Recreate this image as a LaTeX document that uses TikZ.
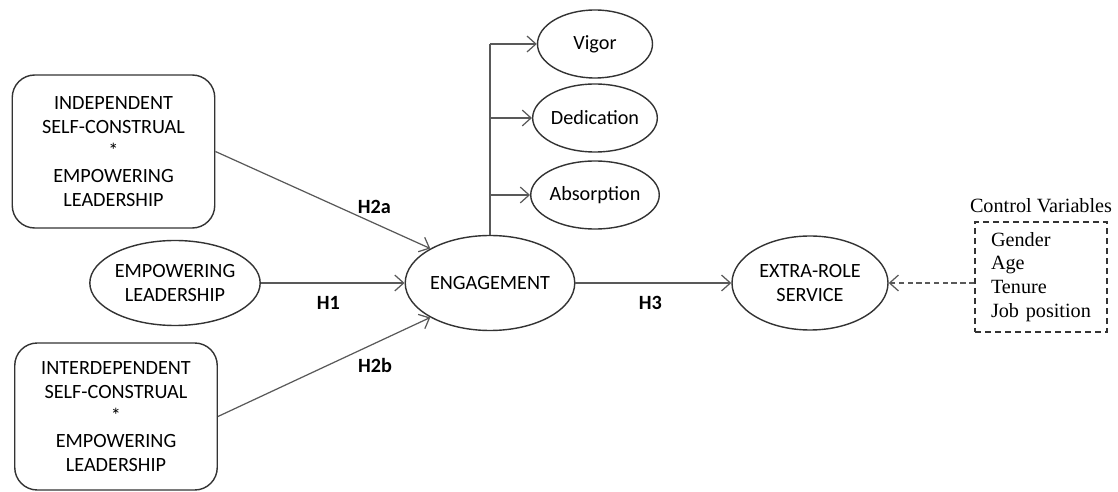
\documentclass[tikz,border=0pt]{standalone}
\usepackage{fontspec}
\setmainfont{Carlito}
\newfontfamily\timesfont{Liberation Serif}
\usepackage{tikz}
\usetikzlibrary{shapes.geometric, arrows.meta, positioning, calc}
\tikzstyle{construct} = [ellipse, draw=black!80, line width=0.8pt, minimum width=3.1cm, minimum height=1.9cm, inner sep=0pt, align=center, font=\fontsize{11.5}{13.5}\selectfont]
\tikzstyle{facet} = [ellipse, draw=black!80, line width=0.8pt, minimum width=2.3cm, minimum height=1.36cm, inner sep=0pt, font=\fontsize{11.5}{13.5}\selectfont]
\tikzstyle{moderator} = [rectangle, rounded corners=0.45cm, draw=black!80, line width=0.8pt, minimum width=4.05cm, minimum height=3cm, align=center, font=\fontsize{11.5}{13.8}\selectfont]
\tikzstyle{controlbox} = [rectangle, draw=black!80, line width=0.8pt, dash pattern=on 0.12cm off 0.08cm, text width=2.0cm, inner xsep=0.32cm, minimum height=2.2cm, align=left, font=\timesfont\fontsize{11.5}{13.6}\selectfont]
\tikzstyle{arrow} = [draw=black!65, line width=0.7pt, -{Straight Barb[length=5pt, width=9pt]}]
\tikzstyle{hyp} = [font=\bfseries\fontsize{11.5}{13.5}\selectfont]

\begin{document}
\begin{tikzpicture}[node distance=1.52cm]
\useasboundingbox (0,0) rectangle (22.36,9.84);

\node (eng) [construct] at (9.80,4.18) {ENGAGEMENT};
\node (emp) [construct, minimum height=1.7cm] at (3.50,4.18) {EMPOWERING\\LEADERSHIP};
\node (indep) [moderator, minimum height=3.06cm] at (2.27,6.81) {INDEPENDENT\\SELF-CONSTRUAL\\*\\EMPOWERING\\LEADERSHIP};
\node (interdep) [moderator, minimum height=2.94cm] at (2.32,1.51) {INTERDEPENDENT\\SELF-CONSTRUAL\\*\\EMPOWERING\\LEADERSHIP};
\node (vigor) [facet] at (11.90,8.96) {Vigor};
\node (dedic) [facet, below of=vigor, yshift=0.04cm] {Dedication};
\node (absorp) [facet, below of=dedic, yshift=-0.02cm] {Absorption};
\node (extra) [construct, minimum width=3.12cm, minimum height=1.88cm] at (16.20,4.18) {EXTRA-ROLE\\SERVICE};
\node (ctrl) [controlbox] at (20.82,4.30) {Gender\\Age\\Tenure\\Job position};
\node (ctrltitle) [above=0.05cm of ctrl, font=\timesfont\fontsize{11.5}{13.4}\selectfont] {Control Variables};

% hypotheses
\draw [arrow] (indep.east) -- (eng.150) node[hyp, pos=0.74, yshift=0.32cm] {H2a};
\draw [arrow] (emp.east) -- (eng.west) node[hyp, pos=0.47, yshift=-0.4cm] {H1};
\draw [arrow] (interdep.east) -- (eng.210) node[hyp, pos=0.74, yshift=-0.45cm] {H2b};
\draw [arrow] (eng.east) -- (extra.west) node[hyp, pos=0.48, yshift=-0.4cm] {H3};

% engagement dimensions
\draw [draw=black!65, line width=0.7pt] (eng.north) -- (eng.north |- vigor.west);
\draw [arrow] (eng.north |- vigor.west) -- (vigor.west);
\draw [arrow] (eng.north |- dedic.west) -- (dedic.west);
\draw [arrow] (eng.north |- absorp.west) -- (absorp.west);

% control variables
\draw [arrow, densely dashed] (ctrl.west |- extra.east) -- (extra.east);

\end{tikzpicture}
\end{document}
